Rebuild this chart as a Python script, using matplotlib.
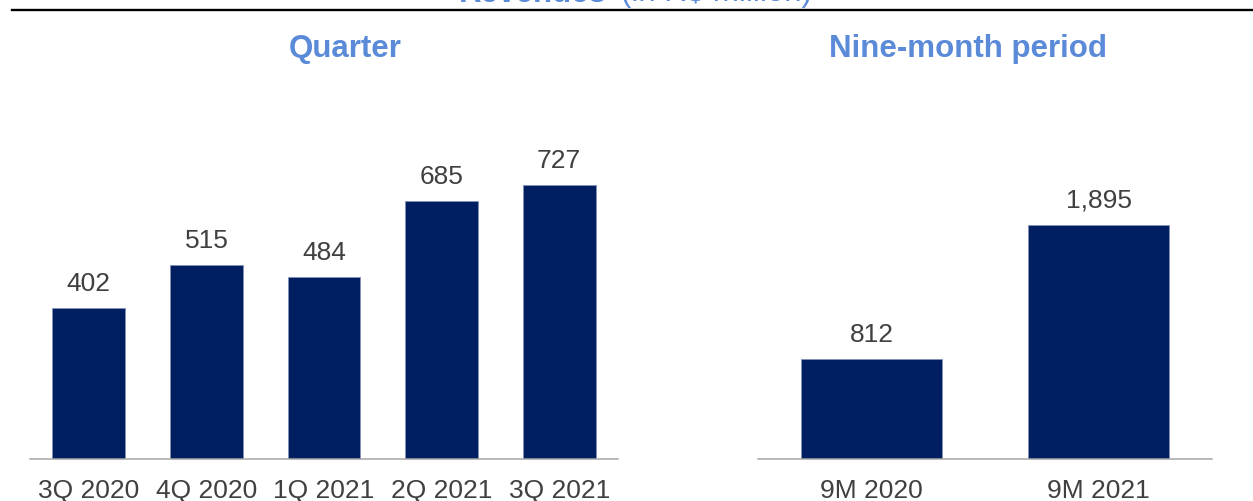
import matplotlib
matplotlib.use('Agg')
import matplotlib.pyplot as plt
from matplotlib.lines import Line2D

plt.rcParams['font.family'] = ['Liberation Sans', 'DejaVu Sans']

# Revenues in R$ million
quarters = ['3Q 2020', '4Q 2020', '1Q 2021', '2Q 2021', '3Q 2021']
quarter_revenue = [402, 515, 484, 685, 727]
periods = ['9M 2020', '9M 2021']
period_revenue = [812, 1895]

bar_color = '#001E60'
edge_color = '#8191B8'
text_color = '#404040'
title_color = '#5A8AD8'

W, H = 1253, 501
fig = plt.figure(figsize=(W / 100, H / 100), dpi=100)


def px_box(x0, x1, y_bottom, y_top):
    # axes rectangle from pixel coordinates (y measured from the top)
    return [x0 / W, 1 - y_bottom / H, (x1 - x0) / W, (y_bottom - y_top) / H]


def draw_panel(ax, labels, values, ymax, fmt):
    x = range(len(labels))
    bars = ax.bar(x, values, width=0.62, color=bar_color,
                  edgecolor=edge_color, linewidth=0.6)
    for b, v in zip(bars, values):
        ax.annotate(fmt.format(v), (b.get_x() + b.get_width() / 2, v),
                    xytext=(0, 12.2), textcoords='offset points',
                    ha='center', va='baseline', fontsize=19, color=text_color)
    ax.set_xlim(-0.5, len(labels) - 0.5)
    ax.set_ylim(0, ymax)
    ax.set_xticks(list(x))
    ax.set_xticklabels(labels, fontsize=19, color=text_color)
    ax.tick_params(axis='x', length=0, pad=14)
    ax.set_yticks([])
    for side in ['top', 'left', 'right']:
        ax.spines[side].set_visible(False)
    ax.spines['bottom'].set_color('#A6A6A6')
    ax.spines['bottom'].set_linewidth(1.1)


ax1 = fig.add_axes(px_box(30, 618, 459.3, 100))
draw_panel(ax1, quarters, quarter_revenue, 359.3 / 0.3775, '{:,}')

ax2 = fig.add_axes(px_box(758, 1212, 459.3, 100))
draw_panel(ax2, periods, period_revenue, 359.3 / 0.1238, '{:,}')

# panel headings
fig.text(345 / W, 1 - 57 / H, 'Quarter', ha='center', va='baseline',
         fontsize=22.5, fontweight='bold', color=title_color)
fig.text(968 / W, 1 - 57 / H, 'Nine-month period', ha='center', va='baseline',
         fontsize=22.5, fontweight='bold', color=title_color)

# main title sitting above the rule
fig.text(607 / W, 1 - 1.5 / H, 'Revenues', ha='right', va='baseline',
         fontsize=22.5, fontweight='bold', color=title_color)
fig.text(621 / W, 1 - 1.5 / H, '(in R$ million)', ha='left', va='baseline',
         fontsize=22.5, color=title_color)
fig.add_artist(Line2D([12 / W, 1], [1 - 10.2 / H] * 2, color='black',
                      linewidth=1.7, transform=fig.transFigure))

fig.savefig('out.png', dpi=100)
